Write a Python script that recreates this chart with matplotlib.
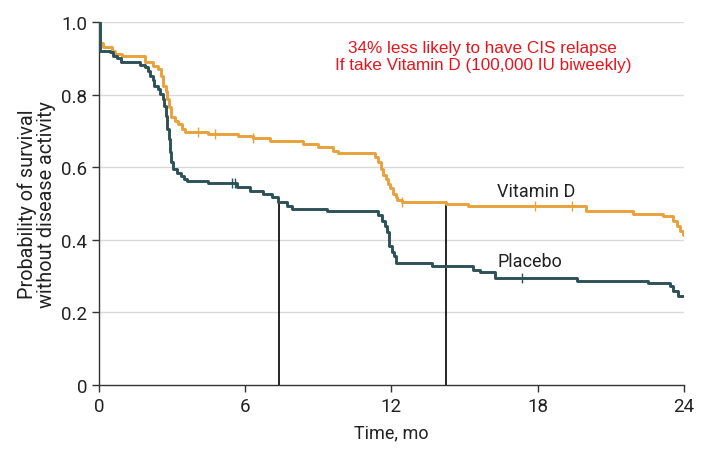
import numpy as np
import matplotlib
matplotlib.use("Agg")
import matplotlib.pyplot as plt

# Kaplan-Meier style curves (time in months, survival prob.)
vitd_t = [0, 0.03, 0.18, 0.52, 0.66, 0.93, 1.89, 2.23, 2.43, 2.54, 2.64, 2.75, 2.80,
          2.89, 2.95, 3.12, 3.26, 3.39, 3.53, 4.49, 5.72, 6.33, 7.02, 8.38, 9.0, 9.61,
          9.82, 11.32, 11.46, 11.59, 11.66, 11.77, 11.87, 11.94, 12.07, 12.18, 12.24,
          12.42, 13.31, 14.24, 15.15, 20.0, 21.9, 23.15, 23.56, 23.7, 23.84, 23.95, 24.0]
vitd_s = [1.0, 0.942, 0.930, 0.921, 0.912, 0.905, 0.891, 0.880, 0.870, 0.852, 0.825,
          0.811, 0.788, 0.765, 0.737, 0.728, 0.719, 0.705, 0.696, 0.691, 0.685, 0.680,
          0.671, 0.664, 0.655, 0.645, 0.639, 0.627, 0.613, 0.595, 0.579, 0.567, 0.554,
          0.544, 0.526, 0.517, 0.511, 0.505, 0.503, 0.498, 0.492, 0.480, 0.471, 0.465,
          0.453, 0.439, 0.425, 0.413, 0.413]

plac_t = [0, 0.02, 0.45, 0.59, 0.73, 0.89, 1.68, 1.89, 2.02, 2.09, 2.20, 2.26, 2.43,
          2.50, 2.61, 2.67, 2.75, 2.80, 2.86, 2.91, 2.97, 3.05, 3.21, 3.35, 3.49, 3.60,
          4.49, 5.65, 6.19, 6.74, 7.08, 7.36, 7.70, 7.91, 9.34, 11.46, 11.6, 11.73,
          11.83, 11.91, 12.01, 12.10, 12.18, 13.65, 15.36, 15.63, 16.25, 19.6, 22.54,
          23.43, 23.56, 23.77, 24.0]
plac_s = [1.0, 0.920, 0.916, 0.907, 0.900, 0.889, 0.881, 0.875, 0.866, 0.852, 0.839,
          0.825, 0.815, 0.802, 0.788, 0.769, 0.742, 0.705, 0.678, 0.641, 0.613, 0.595,
          0.584, 0.575, 0.567, 0.561, 0.556, 0.545, 0.535, 0.526, 0.519, 0.503, 0.492,
          0.485, 0.478, 0.467, 0.453, 0.439, 0.421, 0.384, 0.365, 0.356, 0.335, 0.327,
          0.318, 0.312, 0.296, 0.287, 0.281, 0.274, 0.260, 0.246, 0.246]

# censoring marks
vitd_cens = [4.07, 4.76, 6.33, 12.42, 17.9, 19.4]
plac_cens = [5.45, 5.6, 17.34]

# median survival times
medians = [7.38, 14.24]

orange = "#E9A23B"
teal = "#2C5257"

plt.rcParams["font.family"] = ["Roboto", "DejaVu Sans"]

fig = plt.figure(figsize=(7.26, 4.6), dpi=100, facecolor="white")
ax = fig.add_axes([0.1364, 0.1609, 0.8056, 0.7891])


def step_at(ts, ss, x):
    i = np.searchsorted(ts, x, side="right") - 1
    return np.array(ss)[i]


ax.step(vitd_t, vitd_s, where="post", color=orange, lw=2.1, zorder=3)
ax.step(plac_t, plac_s, where="post", color=teal, lw=2.1, zorder=3)
ax.plot(vitd_cens, step_at(vitd_t, vitd_s, vitd_cens), "|", color=orange, ms=7, mew=1.0, zorder=3)
ax.plot(plac_cens, step_at(plac_t, plac_s, plac_cens), "|", color=teal, ms=7, mew=1.0, zorder=3)

ax.vlines(medians, 0, 0.5, color="black", lw=1.2, zorder=2)

ax.set_xlim(0, 24)
ax.set_ylim(0, 1.0)
ax.set_xticks([0, 6, 12, 18, 24])
ax.set_yticks([0, 0.2, 0.4, 0.6, 0.8, 1.0])
ax.set_yticklabels(["0", "0.2", "0.4", "0.6", "0.8", "1.0"])
for y in [0.2, 0.4, 0.6, 0.8, 1.0]:
    ax.axhline(y, color="#d9d9d9", lw=1.0, zorder=1)

for s in ["top", "right"]:
    ax.spines[s].set_visible(False)
for s in ["left", "bottom"]:
    ax.spines[s].set_color("#333333")
    ax.spines[s].set_linewidth(1.0)
ax.tick_params(direction="out", length=5, width=1.0, color="#333333",
               labelsize=13.5, labelcolor="#222222")

ax.set_xlabel("Time, mo", fontsize=13, color="#222222", labelpad=6)
ax.set_ylabel("Probability of survival\nwithout disease activity", fontsize=14.3,
              color="#222222", labelpad=4, linespacing=1.0)

ax.text(16.35, 0.534, "Vitamin D", fontsize=13, color="#222222", va="center")
ax.text(16.35, 0.342, "Placebo", fontsize=13, color="#222222", va="center")

ax.text(15.75, 0.906, "34% less likely to have CIS relapse\nIf take Vitamin D (100,000 IU biweekly)",
        fontsize=12.3, color="#e8141c", ha="center", va="center",
        family=["Liberation Sans", "DejaVu Sans"], linespacing=1.2)

fig.savefig("out.png", dpi=100)
